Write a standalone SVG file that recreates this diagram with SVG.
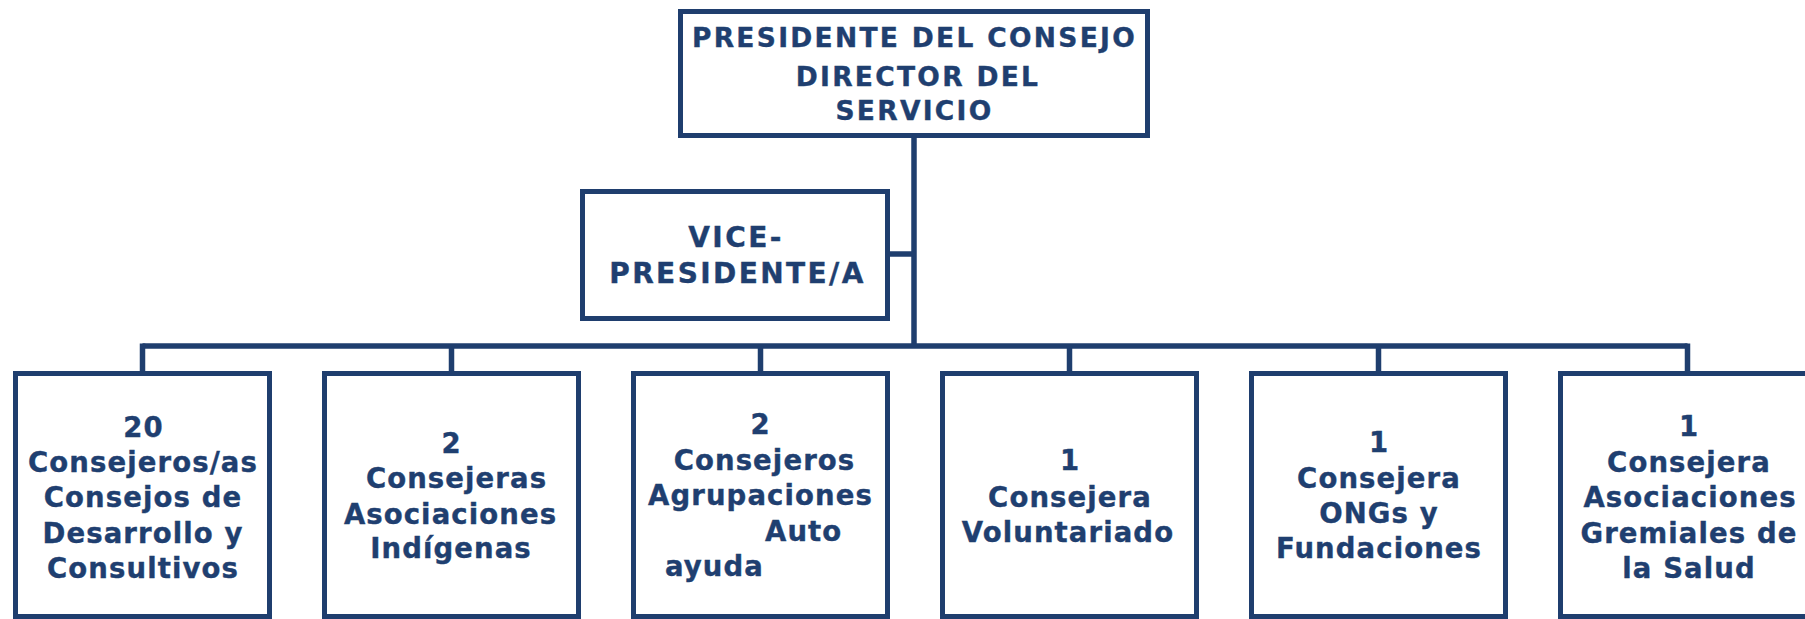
<svg xmlns="http://www.w3.org/2000/svg" width="1805" height="619" viewBox="0 0 1805 619">
<style>
.box{fill:#ffffff;stroke:#1f3e6e;stroke-width:5}
.ln{fill:none;stroke:#1f3e6e;stroke-width:5.5}
text{font-family:"DejaVu Sans","Verdana",sans-serif;font-weight:bold;fill:#1f3f70;stroke:#1f3f70;stroke-width:0.4;text-anchor:middle}
.t{font-size:26.5px;letter-spacing:2.3px}
.v{font-size:28px;letter-spacing:2.4px}
.b{font-size:27.5px;letter-spacing:1.1px}
.s{text-anchor:start}
</style>
<rect width="1805" height="619" fill="#ffffff"/>
<g id="connectors">
<line class="ln" x1="914" y1="136" x2="914" y2="346"/>
<line class="ln" x1="888" y1="254" x2="914" y2="254"/>
<line class="ln" x1="142.5" y1="346" x2="1687.5" y2="346"/>
<line class="ln" x1="142.5" y1="343.5" x2="142.5" y2="373"/>
<line class="ln" x1="451.5" y1="346" x2="451.5" y2="373"/>
<line class="ln" x1="760.5" y1="346" x2="760.5" y2="373"/>
<line class="ln" x1="1069.5" y1="346" x2="1069.5" y2="373"/>
<line class="ln" x1="1378.5" y1="346" x2="1378.5" y2="373"/>
<line class="ln" x1="1687.5" y1="343.5" x2="1687.5" y2="373"/>
</g>
<g id="presidente">
<rect class="box" x="680.5" y="11.5" width="467" height="124"/>
<text class="t" x="914.5" y="47">PRESIDENTE DEL CONSEJO</text>
<text class="t" x="918" y="86">DIRECTOR DEL</text>
<text class="t" x="914.5" y="120">SERVICIO</text>
</g>
<g id="vicepresidente">
<rect class="box" x="582.5" y="191.5" width="305" height="127"/>
<text class="v" x="736" y="247">VICE-</text>
<text class="v" x="737.5" y="283">PRESIDENTE/A</text>
</g>
<g id="consejos-desarrollo">
<rect class="box" x="15.5" y="373.5" width="254" height="243"/>
<text class="b" x="143.5" y="437">20</text>
<text class="b" x="143" y="472">Consejeros/as</text>
<text class="b" x="143" y="507">Consejos de</text>
<text class="b" x="143" y="543">Desarrollo y</text>
<text class="b" x="143" y="578">Consultivos</text>
</g>
<g id="asociaciones-indigenas">
<rect class="box" x="324.5" y="373.5" width="254" height="243"/>
<text class="b" x="451.5" y="453">2</text>
<text class="b" x="456.5" y="488">Consejeras</text>
<text class="b" x="450.5" y="524">Asociaciones</text>
<text class="b" x="451" y="558">Indígenas</text>
</g>
<g id="agrupaciones-autoayuda">
<rect class="box" x="633.5" y="373.5" width="254" height="243"/>
<text class="b" x="760.5" y="434">2</text>
<text class="b" x="764.5" y="470">Consejeros</text>
<text class="b" x="760.5" y="505">Agrupaciones</text>
<text class="b s" x="765" y="541">Auto</text>
<text class="b s" x="665" y="576">ayuda</text>
</g>
<g id="voluntariado">
<rect class="box" x="942.5" y="373.5" width="254" height="243"/>
<text class="b" x="1070" y="470">1</text>
<text class="b" x="1070" y="507">Consejera</text>
<text class="b" x="1068" y="542">Voluntariado</text>
</g>
<g id="ongs-fundaciones">
<rect class="box" x="1251.5" y="373.5" width="254" height="243"/>
<text class="b" x="1379" y="452">1</text>
<text class="b" x="1379" y="488">Consejera</text>
<text class="b" x="1379" y="523">ONGs y</text>
<text class="b" x="1379" y="558">Fundaciones</text>
</g>
<g id="gremiales-salud">
<rect class="box" x="1560.5" y="373.5" width="254" height="243"/>
<text class="b" x="1689" y="436">1</text>
<text class="b" x="1689" y="472">Consejera</text>
<text class="b" x="1690" y="507">Asociaciones</text>
<text class="b" x="1689" y="543">Gremiales de</text>
<text class="b" x="1689" y="578">la Salud</text>
</g>
</svg>
